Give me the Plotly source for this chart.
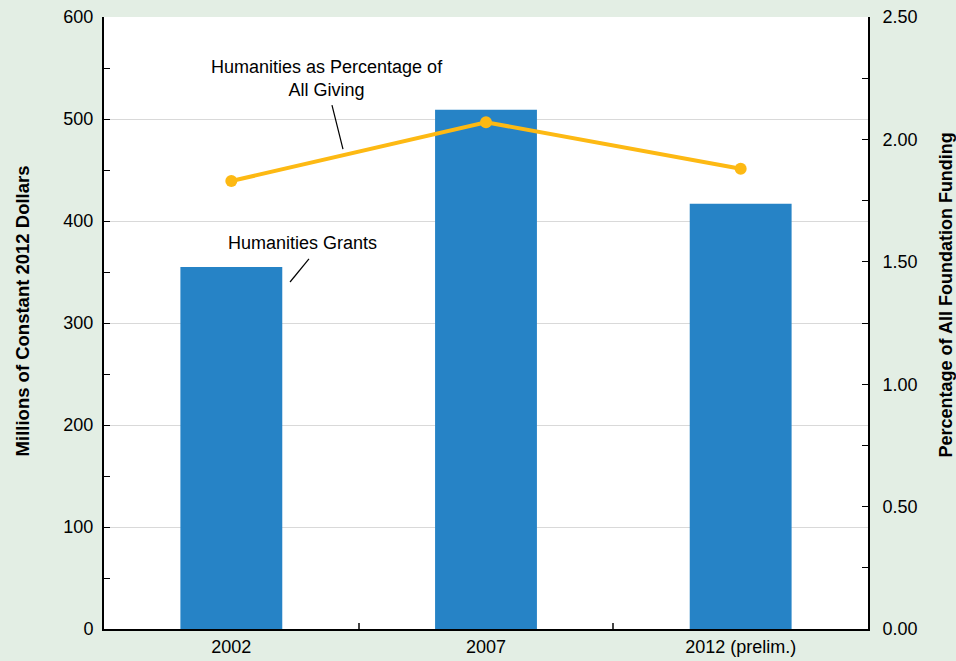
import plotly.graph_objects as go

# Foundation humanities giving, constant 2012 dollars
years = ["2002", "2007", "2012 (prelim.)"]
grants_millions = [355, 509, 417]
pct_of_all_giving = [1.83, 2.07, 1.88]

BAR_BLUE = "#2683C6"
LINE_GOLD = "#FDB913"
BG_GREEN = "#E3EEE4"
FONT = "Liberation Sans, Arial, sans-serif"

fig = go.Figure()

fig.add_trace(go.Bar(
    x=years, y=grants_millions, name="Humanities Grants",
    marker=dict(color=BAR_BLUE, line=dict(width=0)),
    yaxis="y",
))

fig.add_trace(go.Scatter(
    x=years, y=pct_of_all_giving, name="Humanities as Percentage of All Giving",
    mode="lines+markers",
    line=dict(color=LINE_GOLD, width=4),
    marker=dict(color=LINE_GOLD, size=12),
    yaxis="y2",
))

fig.update_layout(
    width=956, height=661,
    margin=dict(l=104, r=88, t=17, b=32),
    paper_bgcolor=BG_GREEN,
    plot_bgcolor="white",
    showlegend=False,
    bargap=0.6,
    font=dict(family=FONT, size=18, color="black"),
    xaxis=dict(
        type="category",
        tickson="boundaries",
        ticks="inside", ticklen=6, tickcolor="#444", tickwidth=1.5,
        showline=True, linecolor="black", linewidth=2,
        showgrid=False, automargin=False,
        tickfont=dict(size=18),
    ),
    yaxis=dict(
        range=[0, 600], dtick=100,
        ticks="inside", ticklen=6, tickcolor="black",
        minor=dict(dtick=50, ticks="inside", ticklen=6, tickcolor="black", showgrid=False),
        showline=True, linecolor="black", linewidth=2,
        showgrid=True, gridcolor="#D9D9D9", gridwidth=1,
        zeroline=False, automargin=False,
        ticklabelstandoff=5,
        tickfont=dict(size=18),
    ),
    yaxis2=dict(
        overlaying="y", side="right",
        range=[0, 2.5], dtick=0.5, tickformat=".2f",
        ticks="inside", ticklen=6, tickcolor="black",
        minor=dict(dtick=0.25, ticks="inside", ticklen=6, tickcolor="black", showgrid=False),
        showline=True, linecolor="black", linewidth=2,
        showgrid=False, zeroline=False, automargin=False,
        ticklabelstandoff=9,
        tickfont=dict(size=18),
    ),
)

# Axis titles, placed as rotated text beside each axis
fig.add_annotation(
    text="<b>Millions of Constant 2012 Dollars</b>",
    xref="paper", yref="paper", x=-0.1073, y=0.519,
    xanchor="center", yanchor="middle", textangle=-90,
    showarrow=False, font=dict(size=18.5),
)
fig.add_annotation(
    text="<b>Percentage of All Foundation Funding</b>",
    xref="paper", yref="paper", x=1.1021, y=0.545,
    xanchor="center", yanchor="middle", textangle=-90,
    showarrow=False, font=dict(size=18),
)

# Series labels with leader lines
fig.add_annotation(
    text="Humanities as Percentage of<br>All Giving",
    xref="paper", yref="paper", x=0.292, y=0.900,
    xanchor="center", yanchor="middle",
    showarrow=False, align="center", font=dict(size=18),
)
fig.add_annotation(
    text="Humanities Grants",
    xref="paper", yref="paper", x=0.260, y=0.631,
    xanchor="center", yanchor="middle",
    showarrow=False, font=dict(size=18),
)
fig.add_shape(type="line", xref="paper", yref="paper",
              x0=0.2984, y0=0.856, x1=0.3128, y1=0.784,
              line=dict(color="black", width=1.2))
fig.add_shape(type="line", xref="paper", yref="paper",
              x0=0.2683, y0=0.6046, x1=0.2435, y1=0.567,
              line=dict(color="black", width=1.2))

fig.write_html("out.html")
